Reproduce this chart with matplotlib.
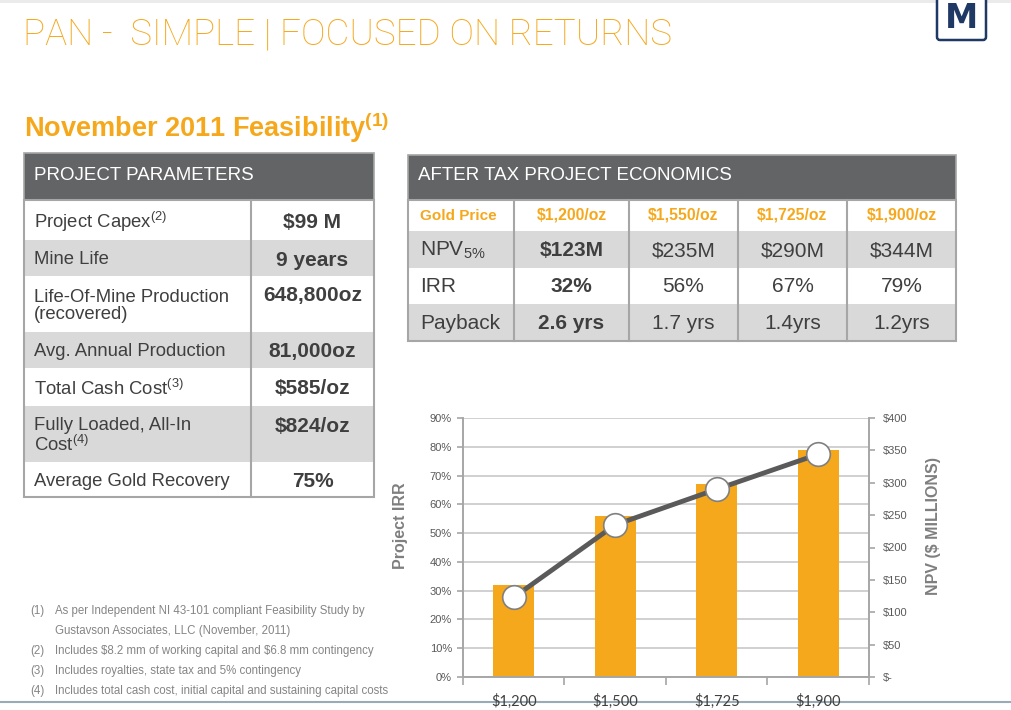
import matplotlib.pyplot as plt
import numpy as np
from matplotlib.patches import Rectangle, FancyBboxPatch

plt.rcParams['font.family'] = ['Liberation Sans', 'DejaVu Sans']
plt.rcParams['mathtext.default'] = 'regular'

# ---- data ----
title = 'PAN -  SIMPLE | FOCUSED ON RETURNS'
subtitle = 'November 2011 Feasibility'

param_labels = ['Project Capex$^{(2)}$', 'Mine Life', 'Life-Of-Mine Production\n(recovered)',
                'Avg. Annual Production', 'Total Cash Cost$^{(3)}$',
                'Fully Loaded, All-In\nCost$^{(4)}$', 'Average Gold Recovery']
param_values = ['$99 M', '9 years', '648,800oz', '81,000oz', '$585/oz', '$824/oz', '75%']

econ_prices = ['$1,200/oz', '$1,550/oz', '$1,725/oz', '$1,900/oz']
econ_rows = ['NPV$_{5\\%}$', 'IRR', 'Payback']
econ_npv = ['$123M', '$235M', '$290M', '$344M']
econ_irr = ['32%', '56%', '67%', '79%']
econ_payback = ['2.6 yrs', '1.7 yrs', '1.4yrs', '1.2yrs']

chart_prices = ['$1,200', '$1,500', '$1,725', '$1,900']
irr_pct = [32, 56, 67, 79]
npv_musd = [123, 235, 290, 344]

footnotes = ['As per Independent NI 43-101 compliant Feasibility Study by\nGustavson Associates, LLC (November, 2011)',
             'Includes \\$8.2 mm of working capital and \\$6.8 mm contingency',
             'Includes royalties, state tax and 5% contingency',
             'Includes total cash cost, initial capital and sustaining capital costs']

# ---- colours ----
ORANGE = '#F6A81D'
HEAD = '#636466'
ROWGRAY = '#D9D9D9'
TXT = '#3F3F3F'
BORDER = '#A6A6A6'
NAVY = '#1F3864'

fig = plt.figure(figsize=(10.12, 7.10), dpi=100)
bg = fig.add_axes([0, 0, 1, 1])
bg.set_xlim(0, 1012)
bg.set_ylim(710, 0)
bg.axis('off')

# thin bands at top / bottom of the slide
bg.add_patch(Rectangle((0, 0), 1012, 3, color='#EBEBEB', lw=0))
bg.axhline(702, color='#9AABB6', lw=1.5)

# titles
bg.text(23, 45, title, color=ORANGE, fontsize=26.5, family=['Roboto', 'DejaVu Sans'],
        fontweight='light', va='baseline', ha='left')
bg.text(24, 137, subtitle + '$^{(1)}$', color=ORANGE, fontsize=19.5, fontweight='bold',
        va='baseline', ha='left')

# logo
bg.add_patch(FancyBboxPatch((937, -6), 49, 46, boxstyle='round,pad=0,rounding_size=3',
                            fc='white', ec=NAVY, lw=1.8))
bg.text(962, 28, 'M', color=NAVY, fontsize=24, fontweight='heavy',
        ha='center', va='baseline', family=['DejaVu Sans'])

# ---- project parameters table ----
lx0, lx1, lxd = 24, 374, 251
lrows = [200, 240, 276, 332, 368, 406, 462, 497]
bg.add_patch(Rectangle((lx0, 153), lx1 - lx0, 200 - 153, fc=HEAD, ec=BORDER, lw=1.2))
bg.text(34, 175, 'PROJECT PARAMETERS', color='white', fontsize=13.5, va='center')
for i, (lab, val) in enumerate(zip(param_labels, param_values)):
    top, bot = lrows[i], lrows[i + 1]
    bg.add_patch(Rectangle((lx0, top), lx1 - lx0, bot - top,
                           fc=ROWGRAY if i % 2 else 'white', lw=0))
    two = '\n' in lab
    bg.text(34, (top + bot) / 2 + 2, lab, color=TXT, fontsize=13.3, va='center', ha='left',
            linespacing=1.05)
    vy = top + 20 if two else (top + bot) / 2 + 2
    bg.text((lxd + lx1) / 2, vy, val, color=TXT, fontsize=15, fontweight='bold',
            va='center', ha='center')
bg.add_patch(Rectangle((lx0, 200), lx1 - lx0, lrows[-1] - 200, fc='none', ec=BORDER, lw=1.5))
bg.plot([lxd, lxd], [200, lrows[-1]], color=BORDER, lw=1.5)

# ---- after tax economics table ----
rcols = [408, 514, 629, 738, 847, 956]
rrows = [200, 231, 268, 304, 341]
bg.add_patch(Rectangle((408, 155), 956 - 408, 200 - 155, fc=HEAD, ec=BORDER, lw=1.2))
bg.text(418, 176, 'AFTER TAX PROJECT ECONOMICS', color='white', fontsize=13.5, va='center')
for r in range(4):
    bg.add_patch(Rectangle((408, rrows[r]), 956 - 408, rrows[r + 1] - rrows[r],
                           fc=ROWGRAY if r % 2 else 'white', lw=0))
bg.text(420, (rrows[0] + rrows[1]) / 2, 'Gold Price', color=ORANGE, fontsize=11,
        fontweight='bold', va='center')
for j, p in enumerate(econ_prices):
    bg.text((rcols[j + 1] + rcols[j + 2]) / 2, (rrows[0] + rrows[1]) / 2, p, color=ORANGE,
            fontsize=11.3, fontweight='bold', va='center', ha='center')
for r, (lab, vals) in enumerate(zip(econ_rows, [econ_npv, econ_irr, econ_payback])):
    cy = (rrows[r + 1] + rrows[r + 2]) / 2 + 1
    bg.text(420, cy, lab, color=TXT, fontsize=15, va='center')
    for j, v in enumerate(vals):
        bg.text((rcols[j + 1] + rcols[j + 2]) / 2, cy, v, color=TXT, fontsize=15,
                fontweight='bold' if j == 0 else 'normal', va='center', ha='center')
bg.add_patch(Rectangle((408, 200), 956 - 408, 341 - 200, fc='none', ec=BORDER, lw=1.5))
for x in rcols[1:-1]:
    bg.plot([x, x], [200, 341], color=BORDER, lw=1.5)

# ---- footnotes ----
fy = 611
for k, note in enumerate(footnotes):
    bg.text(30, fy, '(%d)' % (k + 1), color='#858585', fontsize=8.3, va='center')
    for line in note.split('\n'):
        bg.text(55, fy, line, color='#858585', fontsize=8.3, va='center')
        fy += 20

# ---- chart ----
ax = fig.add_axes([463 / 1012, 1 - 677 / 710, 406 / 1012, 259 / 710])
x = np.arange(len(chart_prices))
ax.bar(x, irr_pct, width=0.4, color=ORANGE, zorder=2)
ax.set_xlim(-0.5, 3.5)
ax.set_ylim(0, 90)
ax.set_yticks(np.arange(0, 91, 10))
ax.set_yticklabels(['%d%%' % v for v in range(0, 91, 10)], fontsize=8, color='#595959')
ax.yaxis.grid(True, color='#C8C8C8', lw=1.2, zorder=0)
ax.set_xticks(x)
ax.set_xticklabels(chart_prices, fontsize=10.5, color=TXT, family=['Lato', 'DejaVu Sans'])
ax.tick_params(axis='x', length=0, pad=12)
ax.set_xticks(np.arange(-0.5, 4, 1), minor=True)
ax.tick_params(axis='x', which='minor', length=6, color=BORDER, width=1.2)
ax.tick_params(axis='y', length=4, color=BORDER, width=1.2, pad=4)
ax.spines['top'].set_visible(False)
for s in ['left', 'bottom', 'right']:
    ax.spines[s].set_color(BORDER)
    ax.spines[s].set_linewidth(1.2)
ax.set_ylabel('Project IRR', fontsize=11.5, fontweight='bold', color='#7F7F7F')
ax.yaxis.set_label_coords(-0.135, 0.583)

ax2 = ax.twinx()
ax2.plot(x, npv_musd, color='#5A5A5A', lw=3.5, marker='o', ms=17, mfc='white',
         mec='#808080', mew=1.2, zorder=3)
ax2.set_ylim(0, 400)
ax2.set_yticks(np.arange(0, 401, 50))
ax2.set_yticklabels(['$-'] + ['$%d' % v for v in range(50, 401, 50)], fontsize=8,
                    color='#595959')
ax2.tick_params(axis='y', length=4, color=BORDER, width=1.2, pad=6)
ax2.spines['top'].set_visible(False)
for s in ['left', 'bottom', 'right']:
    ax2.spines[s].set_color(BORDER)
    ax2.spines[s].set_linewidth(1.2)
ax2.set_ylabel('NPV ($ MILLIONS)', fontsize=11.5, fontweight='bold', color='#7F7F7F')
ax2.yaxis.set_label_coords(1.14, 0.583)

fig.savefig('out.png', dpi=100)
